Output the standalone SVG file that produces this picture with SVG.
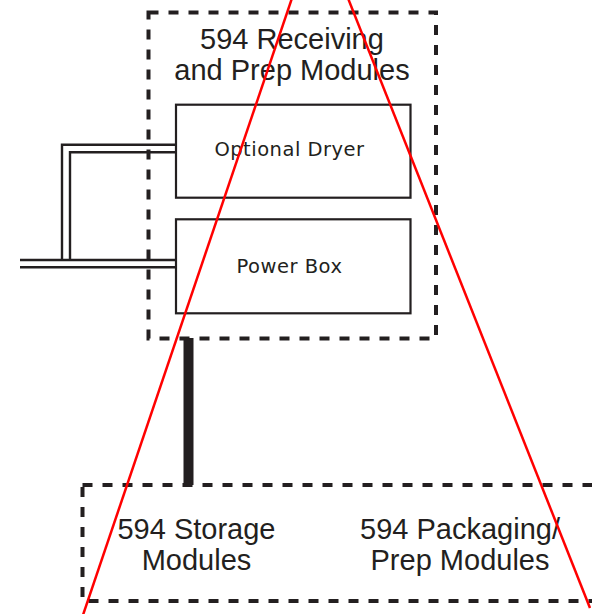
<svg xmlns="http://www.w3.org/2000/svg" width="592" height="614" viewBox="0 0 592 614">
<style>
.dash{fill:none;stroke:#231f20;stroke-width:4;stroke-dasharray:10 10}
.box{fill:none;stroke:#231f20;stroke-width:2.2}
.pipe{fill:none;stroke:#231f20;stroke-width:2.4}
.big{font-family:"Liberation Sans",Arial,sans-serif;font-size:29px;fill:#231f20;text-anchor:middle}
.small{font-family:"DejaVu Sans",Verdana,sans-serif;font-size:19.5px;letter-spacing:0.5px;fill:#231f20;text-anchor:middle}
.red{stroke:#ff0000;stroke-width:2.5;fill:none}
</style>
<g id="connectors">
<path class="pipe" d="M176 144.7 H62 V260 M176 152.3 H70 V260 M20 260 H176 M20 267.3 H176"/>
<line x1="188.5" y1="338" x2="188.5" y2="485" stroke="#231f20" stroke-width="10"/>
</g>
<g id="receiving">
<rect class="dash" x="148.5" y="12.5" width="287.5" height="326"/>
<text class="big" x="292" y="49">594 Receiving</text>
<text class="big" x="292" y="80">and Prep Modules</text>
</g>
<g id="dryer">
<rect class="box" x="176" y="104.7" width="234.5" height="93"/>
<text class="small" x="289.5" y="156">Optional Dryer</text>
</g>
<g id="powerbox">
<rect class="box" x="176" y="219.3" width="234.5" height="94"/>
<text class="small" x="289.5" y="273">Power Box</text>
</g>
<g id="bottom">
<rect class="dash" x="82.5" y="485" width="540" height="116"/>
<text class="big" x="196.5" y="539">594 Storage</text>
<text class="big" x="196.5" y="570">Modules</text>
<text class="big" x="460" y="539">594 Packaging/</text>
<text class="big" x="460" y="570">Prep Modules</text>
</g>
<g id="red-lines">
<line class="red" x1="291.7" y1="-1" x2="83" y2="615"/>
<line class="red" x1="348.3" y1="-1" x2="590" y2="608"/>
</g>
</svg>
